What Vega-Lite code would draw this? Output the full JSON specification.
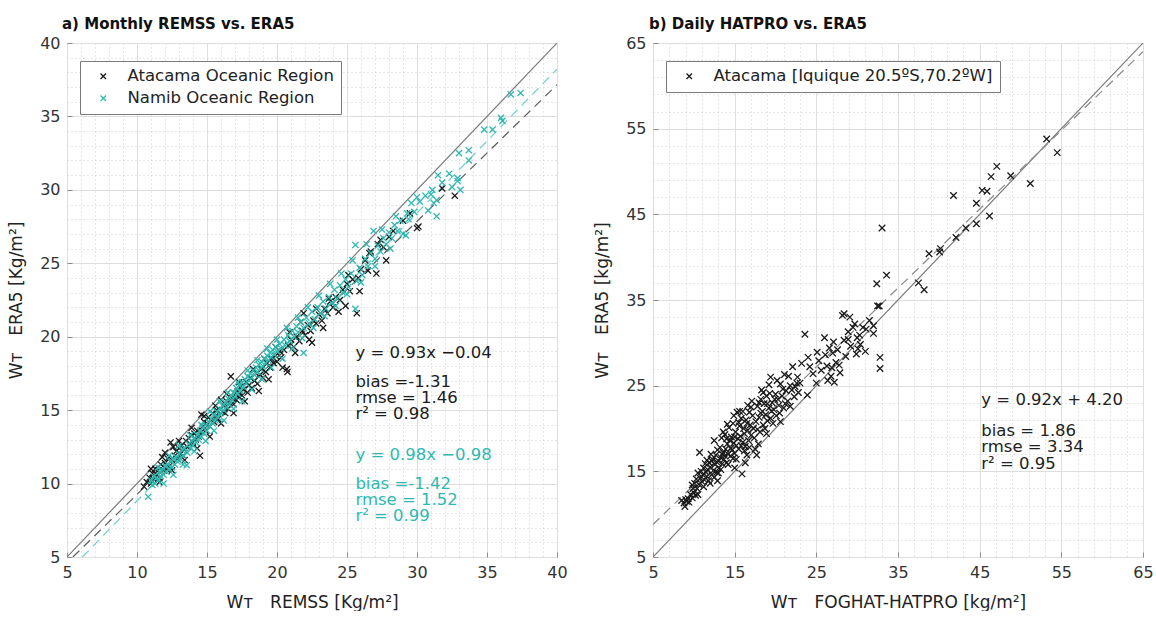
{
  "$schema": "https://vega.github.io/schema/vega-lite/v6.json",
  "background": "white",
  "padding": {"left": 7, "top": 16, "right": 4, "bottom": 0},
  "spacing": 25,
  "config": {
    "font": "DejaVu Sans",
    "view": {"stroke": "#8c8c8c", "strokeWidth": 1},
    "axis": {
      "labelFontSize": 16,
      "labelColor": "#333333",
      "labelFlush": false,
      "labelOverlap": false,
      "titleFontSize": 17,
      "titleFontWeight": "normal",
      "titleColor": "#222222",
      "domain": false,
      "tickColor": "#8c8c8c",
      "tickSize": -5,
      "labelPadding": 12,
      "gridColor": "#dedede",
      "gridWidth": 1
    },
    "title": {"fontSize": 15, "fontWeight": "bold", "anchor": "start", "frame": "group", "color": "#111111", "offset": 3},
    "legend": {
      "orient": "none",
      "legendX": 13,
      "legendY": 18,
      "title": null,
      "strokeColor": "#7a7a7a",
      "fillColor": "white",
      "padding": 7,
      "rowPadding": 5,
      "labelFontSize": 16.5,
      "labelLimit": 500,
      "labelColor": "#222222",
      "labelOffset": 16,
      "symbolOffset": 8,
      "symbolType": "M-1,-1L1,1M-1,1L1,-1",
      "symbolSize": 30,
      "symbolStrokeWidth": 1.3,
      "symbolFillColor": "transparent"
    }
  },
  "datasets": {
    "monthly": [
      {"region": "Atacama", "remss": 10.5, "era5": 9.8}, {"region": "Atacama", "remss": 10.7, "era5": 10.1}, {"region": "Atacama", "remss": 10.9, "era5": 10.4}, {"region": "Atacama", "remss": 11.0, "era5": 10.0}, {"region": "Atacama", "remss": 11.1, "era5": 10.7}, {"region": "Atacama", "remss": 11.2, "era5": 10.3}, {"region": "Atacama", "remss": 11.3, "era5": 11.0}, {"region": "Atacama", "remss": 11.4, "era5": 10.6}, {"region": "Atacama", "remss": 11.5, "era5": 10.9}, {"region": "Atacama", "remss": 11.6, "era5": 10.4},
      {"region": "Atacama", "remss": 11.7, "era5": 11.3}, {"region": "Atacama", "remss": 11.8, "era5": 11.8}, {"region": "Atacama", "remss": 11.9, "era5": 10.9}, {"region": "Atacama", "remss": 12.0, "era5": 11.4}, {"region": "Atacama", "remss": 12.1, "era5": 11.0}, {"region": "Atacama", "remss": 12.2, "era5": 11.7}, {"region": "Atacama", "remss": 12.3, "era5": 11.2}, {"region": "Atacama", "remss": 12.4, "era5": 12.8}, {"region": "Atacama", "remss": 12.5, "era5": 11.6}, {"region": "Atacama", "remss": 12.6, "era5": 12.5},
      {"region": "Atacama", "remss": 12.7, "era5": 11.9}, {"region": "Atacama", "remss": 12.8, "era5": 12.2}, {"region": "Atacama", "remss": 12.9, "era5": 11.7}, {"region": "Atacama", "remss": 13.0, "era5": 12.4}, {"region": "Atacama", "remss": 13.1, "era5": 12.0}, {"region": "Atacama", "remss": 13.2, "era5": 12.6}, {"region": "Atacama", "remss": 13.3, "era5": 11.9}, {"region": "Atacama", "remss": 13.4, "era5": 12.3}, {"region": "Atacama", "remss": 13.5, "era5": 12.9}, {"region": "Atacama", "remss": 13.6, "era5": 12.5},
      {"region": "Atacama", "remss": 13.7, "era5": 13.1}, {"region": "Atacama", "remss": 13.8, "era5": 12.7}, {"region": "Atacama", "remss": 13.9, "era5": 13.3}, {"region": "Atacama", "remss": 14.0, "era5": 12.8}, {"region": "Atacama", "remss": 14.1, "era5": 13.4}, {"region": "Atacama", "remss": 14.2, "era5": 13.0}, {"region": "Atacama", "remss": 14.3, "era5": 13.6}, {"region": "Atacama", "remss": 14.4, "era5": 13.2}, {"region": "Atacama", "remss": 14.5, "era5": 11.9}, {"region": "Atacama", "remss": 14.6, "era5": 14.7},
      {"region": "Atacama", "remss": 14.6, "era5": 13.5}, {"region": "Atacama", "remss": 14.7, "era5": 13.9}, {"region": "Atacama", "remss": 14.8, "era5": 14.2}, {"region": "Atacama", "remss": 14.9, "era5": 13.6}, {"region": "Atacama", "remss": 15.0, "era5": 14.1}, {"region": "Atacama", "remss": 15.1, "era5": 14.5}, {"region": "Atacama", "remss": 15.2, "era5": 13.9}, {"region": "Atacama", "remss": 15.3, "era5": 14.3}, {"region": "Atacama", "remss": 15.4, "era5": 14.8}, {"region": "Atacama", "remss": 15.5, "era5": 14.2},
      {"region": "Atacama", "remss": 15.6, "era5": 14.6}, {"region": "Atacama", "remss": 15.7, "era5": 15.0}, {"region": "Atacama", "remss": 15.8, "era5": 14.4}, {"region": "Atacama", "remss": 16.0, "era5": 15.7}, {"region": "Atacama", "remss": 16.1, "era5": 14.9}, {"region": "Atacama", "remss": 16.2, "era5": 15.3}, {"region": "Atacama", "remss": 16.3, "era5": 14.8}, {"region": "Atacama", "remss": 16.4, "era5": 15.6}, {"region": "Atacama", "remss": 16.5, "era5": 15.1}, {"region": "Atacama", "remss": 16.6, "era5": 15.5},
      {"region": "Atacama", "remss": 16.7, "era5": 17.3}, {"region": "Atacama", "remss": 16.8, "era5": 15.8}, {"region": "Atacama", "remss": 16.9, "era5": 15.4}, {"region": "Atacama", "remss": 17.0, "era5": 16.1}, {"region": "Atacama", "remss": 17.1, "era5": 15.7}, {"region": "Atacama", "remss": 17.2, "era5": 16.3}, {"region": "Atacama", "remss": 17.3, "era5": 15.9}, {"region": "Atacama", "remss": 17.4, "era5": 16.6}, {"region": "Atacama", "remss": 17.5, "era5": 16.0}, {"region": "Atacama", "remss": 17.6, "era5": 16.4},
      {"region": "Atacama", "remss": 17.8, "era5": 16.9}, {"region": "Atacama", "remss": 17.9, "era5": 16.2}, {"region": "Atacama", "remss": 18.0, "era5": 16.7}, {"region": "Atacama", "remss": 18.1, "era5": 17.2}, {"region": "Atacama", "remss": 18.2, "era5": 16.5}, {"region": "Atacama", "remss": 18.4, "era5": 17.0}, {"region": "Atacama", "remss": 18.5, "era5": 17.5}, {"region": "Atacama", "remss": 18.6, "era5": 16.8}, {"region": "Atacama", "remss": 18.8, "era5": 17.4}, {"region": "Atacama", "remss": 18.9, "era5": 17.8},
      {"region": "Atacama", "remss": 19.0, "era5": 17.2}, {"region": "Atacama", "remss": 19.2, "era5": 17.6}, {"region": "Atacama", "remss": 19.3, "era5": 18.2}, {"region": "Atacama", "remss": 19.5, "era5": 17.9}, {"region": "Atacama", "remss": 19.6, "era5": 18.5}, {"region": "Atacama", "remss": 19.75, "era5": 18.2}, {"region": "Atacama", "remss": 19.9, "era5": 18.7}, {"region": "Atacama", "remss": 20.0, "era5": 18.3}, {"region": "Atacama", "remss": 20.2, "era5": 19.0}, {"region": "Atacama", "remss": 20.3, "era5": 18.6},
      {"region": "Atacama", "remss": 20.5, "era5": 19.1}, {"region": "Atacama", "remss": 20.7, "era5": 17.8}, {"region": "Atacama", "remss": 20.75, "era5": 17.6}, {"region": "Atacama", "remss": 20.8, "era5": 19.4}, {"region": "Atacama", "remss": 21.0, "era5": 19.8}, {"region": "Atacama", "remss": 21.2, "era5": 19.3}, {"region": "Atacama", "remss": 21.4, "era5": 20.0}, {"region": "Atacama", "remss": 21.6, "era5": 19.7}, {"region": "Atacama", "remss": 21.8, "era5": 20.4}, {"region": "Atacama", "remss": 21.9, "era5": 21.6},
      {"region": "Atacama", "remss": 22.0, "era5": 20.1}, {"region": "Atacama", "remss": 22.2, "era5": 20.8}, {"region": "Atacama", "remss": 22.4, "era5": 20.4}, {"region": "Atacama", "remss": 22.5, "era5": 19.6}, {"region": "Atacama", "remss": 22.6, "era5": 21.1}, {"region": "Atacama", "remss": 22.8, "era5": 20.9}, {"region": "Atacama", "remss": 23.0, "era5": 21.5}, {"region": "Atacama", "remss": 23.2, "era5": 21.1}, {"region": "Atacama", "remss": 23.4, "era5": 21.9}, {"region": "Atacama", "remss": 23.6, "era5": 21.6},
      {"region": "Atacama", "remss": 23.8, "era5": 22.4}, {"region": "Atacama", "remss": 24.0, "era5": 22.0}, {"region": "Atacama", "remss": 24.2, "era5": 22.7}, {"region": "Atacama", "remss": 24.5, "era5": 22.5}, {"region": "Atacama", "remss": 24.7, "era5": 23.2}, {"region": "Atacama", "remss": 24.9, "era5": 22.1}, {"region": "Atacama", "remss": 25.0, "era5": 23.6}, {"region": "Atacama", "remss": 25.2, "era5": 23.1}, {"region": "Atacama", "remss": 25.4, "era5": 23.9}, {"region": "Atacama", "remss": 25.7, "era5": 21.6},
      {"region": "Atacama", "remss": 25.8, "era5": 24.0}, {"region": "Atacama", "remss": 26.0, "era5": 24.6}, {"region": "Atacama", "remss": 26.3, "era5": 25.2}, {"region": "Atacama", "remss": 26.5, "era5": 24.5}, {"region": "Atacama", "remss": 26.7, "era5": 25.8}, {"region": "Atacama", "remss": 27.1, "era5": 24.3}, {"region": "Atacama", "remss": 27.2, "era5": 26.3}, {"region": "Atacama", "remss": 27.4, "era5": 26.6}, {"region": "Atacama", "remss": 27.6, "era5": 26.1}, {"region": "Atacama", "remss": 28.0, "era5": 26.8},
      {"region": "Atacama", "remss": 28.3, "era5": 27.2}, {"region": "Atacama", "remss": 29.0, "era5": 27.9}, {"region": "Atacama", "remss": 29.5, "era5": 28.4}, {"region": "Atacama", "remss": 30.0, "era5": 27.4}, {"region": "Atacama", "remss": 30.1, "era5": 27.5}, {"region": "Atacama", "remss": 31.8, "era5": 30.1}, {"region": "Atacama", "remss": 32.7, "era5": 29.6},
      {"region": "Atacama", "remss": 11.0, "era5": 11.0}, {"region": "Atacama", "remss": 11.6, "era5": 10.1}, {"region": "Atacama", "remss": 12.0, "era5": 12.1}, {"region": "Atacama", "remss": 12.5, "era5": 10.9}, {"region": "Atacama", "remss": 13.0, "era5": 12.9}, {"region": "Atacama", "remss": 13.4, "era5": 11.6}, {"region": "Atacama", "remss": 13.9, "era5": 13.8}, {"region": "Atacama", "remss": 14.3, "era5": 12.4}, {"region": "Atacama", "remss": 14.8, "era5": 14.6}, {"region": "Atacama", "remss": 15.2, "era5": 13.2},
      {"region": "Atacama", "remss": 15.6, "era5": 15.3}, {"region": "Atacama", "remss": 16.0, "era5": 14.1}, {"region": "Atacama", "remss": 16.4, "era5": 16.1}, {"region": "Atacama", "remss": 16.9, "era5": 14.8}, {"region": "Atacama", "remss": 17.3, "era5": 16.9}, {"region": "Atacama", "remss": 17.7, "era5": 15.6}, {"region": "Atacama", "remss": 18.3, "era5": 17.8}, {"region": "Atacama", "remss": 18.7, "era5": 16.3}, {"region": "Atacama", "remss": 19.1, "era5": 18.5}, {"region": "Atacama", "remss": 19.4, "era5": 17.1},
      {"region": "Atacama", "remss": 19.9, "era5": 19.3}, {"region": "Atacama", "remss": 20.4, "era5": 17.9}, {"region": "Atacama", "remss": 20.9, "era5": 20.3}, {"region": "Atacama", "remss": 21.3, "era5": 18.9}, {"region": "Atacama", "remss": 21.7, "era5": 21.0}, {"region": "Atacama", "remss": 22.3, "era5": 19.8}, {"region": "Atacama", "remss": 22.8, "era5": 21.9}, {"region": "Atacama", "remss": 23.3, "era5": 20.6}, {"region": "Atacama", "remss": 23.7, "era5": 22.6}, {"region": "Atacama", "remss": 24.4, "era5": 21.7},
      {"region": "Atacama", "remss": 25.1, "era5": 24.2}, {"region": "Atacama", "remss": 25.9, "era5": 23.1}, {"region": "Atacama", "remss": 26.6, "era5": 25.7}, {"region": "Atacama", "remss": 27.8, "era5": 25.2},
      {"region": "Namib", "remss": 10.8, "era5": 9.1}, {"region": "Namib", "remss": 11.0, "era5": 10.2}, {"region": "Namib", "remss": 11.1, "era5": 9.9}, {"region": "Namib", "remss": 11.2, "era5": 10.5}, {"region": "Namib", "remss": 11.3, "era5": 10.0}, {"region": "Namib", "remss": 11.4, "era5": 10.4}, {"region": "Namib", "remss": 11.5, "era5": 10.2}, {"region": "Namib", "remss": 11.6, "era5": 10.8}, {"region": "Namib", "remss": 11.7, "era5": 10.5}, {"region": "Namib", "remss": 11.8, "era5": 10.9},
      {"region": "Namib", "remss": 11.9, "era5": 10.6}, {"region": "Namib", "remss": 12.0, "era5": 11.2}, {"region": "Namib", "remss": 12.1, "era5": 10.8}, {"region": "Namib", "remss": 12.2, "era5": 11.3}, {"region": "Namib", "remss": 12.3, "era5": 11.0}, {"region": "Namib", "remss": 12.4, "era5": 11.5}, {"region": "Namib", "remss": 12.5, "era5": 11.1}, {"region": "Namib", "remss": 12.6, "era5": 11.7}, {"region": "Namib", "remss": 12.7, "era5": 11.3}, {"region": "Namib", "remss": 12.8, "era5": 11.8},
      {"region": "Namib", "remss": 12.9, "era5": 11.5}, {"region": "Namib", "remss": 13.0, "era5": 12.0}, {"region": "Namib", "remss": 13.1, "era5": 11.7}, {"region": "Namib", "remss": 13.2, "era5": 12.3}, {"region": "Namib", "remss": 13.3, "era5": 11.9}, {"region": "Namib", "remss": 13.4, "era5": 12.4}, {"region": "Namib", "remss": 13.55, "era5": 11.25}, {"region": "Namib", "remss": 13.6, "era5": 12.1}, {"region": "Namib", "remss": 13.7, "era5": 12.7}, {"region": "Namib", "remss": 13.8, "era5": 12.4},
      {"region": "Namib", "remss": 13.9, "era5": 12.9}, {"region": "Namib", "remss": 14.0, "era5": 12.6}, {"region": "Namib", "remss": 14.1, "era5": 13.1}, {"region": "Namib", "remss": 14.2, "era5": 12.8}, {"region": "Namib", "remss": 14.3, "era5": 13.3}, {"region": "Namib", "remss": 14.4, "era5": 13.0}, {"region": "Namib", "remss": 14.5, "era5": 13.6}, {"region": "Namib", "remss": 14.6, "era5": 13.2}, {"region": "Namib", "remss": 14.7, "era5": 13.8}, {"region": "Namib", "remss": 14.8, "era5": 13.4},
      {"region": "Namib", "remss": 14.9, "era5": 14.0}, {"region": "Namib", "remss": 15.0, "era5": 13.6}, {"region": "Namib", "remss": 15.1, "era5": 14.2}, {"region": "Namib", "remss": 15.2, "era5": 13.9}, {"region": "Namib", "remss": 15.3, "era5": 14.4}, {"region": "Namib", "remss": 15.4, "era5": 14.1}, {"region": "Namib", "remss": 15.5, "era5": 14.7}, {"region": "Namib", "remss": 15.6, "era5": 14.3}, {"region": "Namib", "remss": 15.7, "era5": 14.9}, {"region": "Namib", "remss": 15.8, "era5": 14.5},
      {"region": "Namib", "remss": 15.9, "era5": 15.1}, {"region": "Namib", "remss": 16.0, "era5": 14.8}, {"region": "Namib", "remss": 16.1, "era5": 15.3}, {"region": "Namib", "remss": 16.2, "era5": 15.0}, {"region": "Namib", "remss": 16.3, "era5": 15.5}, {"region": "Namib", "remss": 16.4, "era5": 15.2}, {"region": "Namib", "remss": 16.5, "era5": 15.8}, {"region": "Namib", "remss": 16.6, "era5": 15.4}, {"region": "Namib", "remss": 16.7, "era5": 16.0}, {"region": "Namib", "remss": 16.8, "era5": 15.7},
      {"region": "Namib", "remss": 16.9, "era5": 16.2}, {"region": "Namib", "remss": 17.0, "era5": 15.9}, {"region": "Namib", "remss": 17.1, "era5": 16.5}, {"region": "Namib", "remss": 17.2, "era5": 16.1}, {"region": "Namib", "remss": 17.3, "era5": 16.7}, {"region": "Namib", "remss": 17.4, "era5": 16.3}, {"region": "Namib", "remss": 17.5, "era5": 16.9}, {"region": "Namib", "remss": 17.6, "era5": 16.6}, {"region": "Namib", "remss": 17.7, "era5": 17.1}, {"region": "Namib", "remss": 17.8, "era5": 16.8},
      {"region": "Namib", "remss": 17.9, "era5": 17.3}, {"region": "Namib", "remss": 18.0, "era5": 17.0}, {"region": "Namib", "remss": 18.1, "era5": 17.5}, {"region": "Namib", "remss": 18.2, "era5": 17.2}, {"region": "Namib", "remss": 18.3, "era5": 17.7}, {"region": "Namib", "remss": 18.4, "era5": 17.4}, {"region": "Namib", "remss": 18.5, "era5": 17.9}, {"region": "Namib", "remss": 18.6, "era5": 17.6}, {"region": "Namib", "remss": 18.7, "era5": 18.1}, {"region": "Namib", "remss": 18.8, "era5": 17.8},
      {"region": "Namib", "remss": 18.9, "era5": 18.3}, {"region": "Namib", "remss": 19.0, "era5": 18.0}, {"region": "Namib", "remss": 19.1, "era5": 18.5}, {"region": "Namib", "remss": 19.2, "era5": 18.2}, {"region": "Namib", "remss": 19.3, "era5": 18.7}, {"region": "Namib", "remss": 19.4, "era5": 18.4}, {"region": "Namib", "remss": 19.5, "era5": 18.9}, {"region": "Namib", "remss": 19.6, "era5": 18.6}, {"region": "Namib", "remss": 19.7, "era5": 19.1}, {"region": "Namib", "remss": 19.8, "era5": 18.8},
      {"region": "Namib", "remss": 19.9, "era5": 19.3}, {"region": "Namib", "remss": 20.0, "era5": 19.0}, {"region": "Namib", "remss": 20.2, "era5": 19.5}, {"region": "Namib", "remss": 20.3, "era5": 19.2}, {"region": "Namib", "remss": 20.5, "era5": 19.8}, {"region": "Namib", "remss": 20.6, "era5": 19.4}, {"region": "Namib", "remss": 20.8, "era5": 20.1}, {"region": "Namib", "remss": 20.9, "era5": 19.7}, {"region": "Namib", "remss": 21.1, "era5": 20.4}, {"region": "Namib", "remss": 21.2, "era5": 20.0},
      {"region": "Namib", "remss": 21.4, "era5": 20.7}, {"region": "Namib", "remss": 21.5, "era5": 20.3}, {"region": "Namib", "remss": 21.7, "era5": 21.0}, {"region": "Namib", "remss": 21.9, "era5": 18.9}, {"region": "Namib", "remss": 21.9, "era5": 20.6}, {"region": "Namib", "remss": 22.1, "era5": 21.3}, {"region": "Namib", "remss": 22.3, "era5": 20.9}, {"region": "Namib", "remss": 22.5, "era5": 21.7}, {"region": "Namib", "remss": 22.7, "era5": 21.2}, {"region": "Namib", "remss": 22.9, "era5": 22.0},
      {"region": "Namib", "remss": 23.1, "era5": 21.6}, {"region": "Namib", "remss": 23.3, "era5": 22.4}, {"region": "Namib", "remss": 23.5, "era5": 21.9}, {"region": "Namib", "remss": 23.7, "era5": 22.7}, {"region": "Namib", "remss": 23.9, "era5": 22.3}, {"region": "Namib", "remss": 24.1, "era5": 23.2}, {"region": "Namib", "remss": 24.3, "era5": 22.6}, {"region": "Namib", "remss": 24.5, "era5": 23.5}, {"region": "Namib", "remss": 24.7, "era5": 23.0}, {"region": "Namib", "remss": 24.9, "era5": 23.9},
      {"region": "Namib", "remss": 25.1, "era5": 23.4}, {"region": "Namib", "remss": 25.3, "era5": 24.3}, {"region": "Namib", "remss": 25.6, "era5": 21.9}, {"region": "Namib", "remss": 25.6, "era5": 26.25}, {"region": "Namib", "remss": 25.7, "era5": 23.8}, {"region": "Namib", "remss": 25.9, "era5": 24.7}, {"region": "Namib", "remss": 26.1, "era5": 24.2}, {"region": "Namib", "remss": 26.3, "era5": 25.3}, {"region": "Namib", "remss": 26.5, "era5": 24.8}, {"region": "Namib", "remss": 26.7, "era5": 25.7},
      {"region": "Namib", "remss": 26.9, "era5": 27.2}, {"region": "Namib", "remss": 27.0, "era5": 25.3}, {"region": "Namib", "remss": 27.2, "era5": 26.2}, {"region": "Namib", "remss": 27.4, "era5": 25.8}, {"region": "Namib", "remss": 27.6, "era5": 26.7}, {"region": "Namib", "remss": 27.8, "era5": 26.3}, {"region": "Namib", "remss": 28.0, "era5": 27.1}, {"region": "Namib", "remss": 28.2, "era5": 26.7}, {"region": "Namib", "remss": 28.4, "era5": 27.6}, {"region": "Namib", "remss": 28.6, "era5": 27.2},
      {"region": "Namib", "remss": 28.8, "era5": 27.9}, {"region": "Namib", "remss": 29.0, "era5": 27.0}, {"region": "Namib", "remss": 29.3, "era5": 28.4}, {"region": "Namib", "remss": 29.4, "era5": 28.0}, {"region": "Namib", "remss": 29.6, "era5": 29.1}, {"region": "Namib", "remss": 29.8, "era5": 28.5}, {"region": "Namib", "remss": 30.2, "era5": 29.2}, {"region": "Namib", "remss": 30.6, "era5": 29.6}, {"region": "Namib", "remss": 31.0, "era5": 29.7}, {"region": "Namib", "remss": 31.1, "era5": 30.0},
      {"region": "Namib", "remss": 31.2, "era5": 29.1}, {"region": "Namib", "remss": 31.4, "era5": 29.3}, {"region": "Namib", "remss": 31.4, "era5": 28.2}, {"region": "Namib", "remss": 31.8, "era5": 30.5}, {"region": "Namib", "remss": 32.3, "era5": 31.1}, {"region": "Namib", "remss": 32.9, "era5": 30.8}, {"region": "Namib", "remss": 32.9, "era5": 30.6}, {"region": "Namib", "remss": 33.0, "era5": 32.5}, {"region": "Namib", "remss": 33.1, "era5": 30.0}, {"region": "Namib", "remss": 33.7, "era5": 32.7},
      {"region": "Namib", "remss": 33.7, "era5": 32.0}, {"region": "Namib", "remss": 34.8, "era5": 34.1}, {"region": "Namib", "remss": 35.4, "era5": 34.1}, {"region": "Namib", "remss": 36.0, "era5": 34.9}, {"region": "Namib", "remss": 36.1, "era5": 34.7}, {"region": "Namib", "remss": 36.7, "era5": 36.5}, {"region": "Namib", "remss": 37.4, "era5": 36.6},
      {"region": "Namib", "remss": 11.5, "era5": 11.1}, {"region": "Namib", "remss": 11.9, "era5": 10.0}, {"region": "Namib", "remss": 12.3, "era5": 11.9}, {"region": "Namib", "remss": 12.6, "era5": 10.6}, {"region": "Namib", "remss": 13.0, "era5": 12.6}, {"region": "Namib", "remss": 13.3, "era5": 11.3}, {"region": "Namib", "remss": 13.8, "era5": 13.3}, {"region": "Namib", "remss": 14.1, "era5": 12.2}, {"region": "Namib", "remss": 14.6, "era5": 14.0}, {"region": "Namib", "remss": 14.9, "era5": 12.9},
      {"region": "Namib", "remss": 15.2, "era5": 14.9}, {"region": "Namib", "remss": 15.5, "era5": 13.6}, {"region": "Namib", "remss": 15.9, "era5": 15.6}, {"region": "Namib", "remss": 16.2, "era5": 14.3}, {"region": "Namib", "remss": 16.5, "era5": 16.2}, {"region": "Namib", "remss": 16.9, "era5": 15.1}, {"region": "Namib", "remss": 17.2, "era5": 16.9}, {"region": "Namib", "remss": 17.5, "era5": 15.6}, {"region": "Namib", "remss": 17.9, "era5": 17.7}, {"region": "Namib", "remss": 18.2, "era5": 16.4},
      {"region": "Namib", "remss": 18.6, "era5": 18.4}, {"region": "Namib", "remss": 18.9, "era5": 17.1}, {"region": "Namib", "remss": 19.3, "era5": 19.2}, {"region": "Namib", "remss": 19.6, "era5": 17.9}, {"region": "Namib", "remss": 20.0, "era5": 19.8}, {"region": "Namib", "remss": 20.4, "era5": 18.5}, {"region": "Namib", "remss": 20.7, "era5": 20.6}, {"region": "Namib", "remss": 21.1, "era5": 19.2}, {"region": "Namib", "remss": 21.5, "era5": 21.3}, {"region": "Namib", "remss": 21.8, "era5": 19.9},
      {"region": "Namib", "remss": 22.2, "era5": 22.0}, {"region": "Namib", "remss": 22.6, "era5": 20.6}, {"region": "Namib", "remss": 23.0, "era5": 22.8}, {"region": "Namib", "remss": 23.4, "era5": 21.4}, {"region": "Namib", "remss": 23.8, "era5": 23.6}, {"region": "Namib", "remss": 24.2, "era5": 22.1}, {"region": "Namib", "remss": 24.6, "era5": 24.3}, {"region": "Namib", "remss": 25.0, "era5": 22.9}, {"region": "Namib", "remss": 25.4, "era5": 25.2}, {"region": "Namib", "remss": 26.0, "era5": 23.7},
      {"region": "Namib", "remss": 26.4, "era5": 26.3}, {"region": "Namib", "remss": 27.0, "era5": 24.8}, {"region": "Namib", "remss": 27.5, "era5": 27.3}, {"region": "Namib", "remss": 28.1, "era5": 26.0}, {"region": "Namib", "remss": 28.5, "era5": 28.2}, {"region": "Namib", "remss": 29.2, "era5": 26.9}, {"region": "Namib", "remss": 30.0, "era5": 29.5}, {"region": "Namib", "remss": 30.8, "era5": 28.6}, {"region": "Namib", "remss": 31.5, "era5": 31.0}, {"region": "Namib", "remss": 32.5, "era5": 30.2}
    ],
    "monthlyFits": [
      {"line": "one-to-one", "remss": 5, "era5": 5}, {"line": "one-to-one", "remss": 40, "era5": 40},
      {"line": "Atacama", "remss": 5.42, "era5": 5}, {"line": "Atacama", "remss": 40, "era5": 37.16},
      {"line": "Namib", "remss": 6.1, "era5": 5}, {"line": "Namib", "remss": 40, "era5": 38.22}
    ],
    "monthlyStats": [
      {"region": "Atacama", "remss": 25.6, "era5": 18.9, "label": ["y = 0.93x −0.04"]},
      {"region": "Atacama", "remss": 25.6, "era5": 16.92, "label": ["bias =-1.31", "rmse = 1.46", "r² = 0.98"]},
      {"region": "Namib", "remss": 25.6, "era5": 11.93, "label": ["y = 0.98x −0.98"]},
      {"region": "Namib", "remss": 25.6, "era5": 9.95, "label": ["bias =-1.42", "rmse = 1.52", "r² = 0.99"]}
    ],
    "daily": [
      {"hatpro": 8.5, "era5": 11.6}, {"hatpro": 8.8, "era5": 11.3}, {"hatpro": 8.9, "era5": 10.9}, {"hatpro": 9.0, "era5": 11.7}, {"hatpro": 9.1, "era5": 11.5}, {"hatpro": 9.3, "era5": 11.8}, {"hatpro": 9.4, "era5": 11.4}, {"hatpro": 9.6, "era5": 12.3}, {"hatpro": 9.8, "era5": 11.9}, {"hatpro": 9.9, "era5": 13.0},
      {"hatpro": 10.0, "era5": 12.5}, {"hatpro": 10.1, "era5": 13.6}, {"hatpro": 10.2, "era5": 12.2}, {"hatpro": 10.3, "era5": 14.1}, {"hatpro": 10.4, "era5": 13.0}, {"hatpro": 10.5, "era5": 14.8}, {"hatpro": 10.6, "era5": 13.5}, {"hatpro": 10.7, "era5": 17.2}, {"hatpro": 10.8, "era5": 14.2}, {"hatpro": 10.9, "era5": 15.0},
      {"hatpro": 11.0, "era5": 13.8}, {"hatpro": 11.1, "era5": 14.6}, {"hatpro": 11.2, "era5": 15.4}, {"hatpro": 11.3, "era5": 14.0}, {"hatpro": 11.4, "era5": 15.9}, {"hatpro": 11.5, "era5": 14.9}, {"hatpro": 11.6, "era5": 16.3}, {"hatpro": 11.7, "era5": 15.2}, {"hatpro": 11.8, "era5": 13.9}, {"hatpro": 11.9, "era5": 16.0},
      {"hatpro": 12.0, "era5": 15.5}, {"hatpro": 12.1, "era5": 17.0}, {"hatpro": 12.2, "era5": 14.6}, {"hatpro": 12.3, "era5": 16.4}, {"hatpro": 12.4, "era5": 15.1}, {"hatpro": 12.5, "era5": 18.6}, {"hatpro": 12.6, "era5": 15.8}, {"hatpro": 12.7, "era5": 16.9}, {"hatpro": 12.8, "era5": 14.9}, {"hatpro": 12.9, "era5": 17.5},
      {"hatpro": 13.0, "era5": 16.2}, {"hatpro": 13.1, "era5": 15.4}, {"hatpro": 13.2, "era5": 17.8}, {"hatpro": 13.3, "era5": 16.6}, {"hatpro": 13.4, "era5": 18.9}, {"hatpro": 13.5, "era5": 15.9}, {"hatpro": 13.6, "era5": 17.2}, {"hatpro": 13.7, "era5": 16.4}, {"hatpro": 13.8, "era5": 19.3}, {"hatpro": 13.9, "era5": 17.6},
      {"hatpro": 14.0, "era5": 16.0}, {"hatpro": 14.1, "era5": 18.2}, {"hatpro": 14.2, "era5": 17.0}, {"hatpro": 14.3, "era5": 20.1}, {"hatpro": 14.4, "era5": 18.6}, {"hatpro": 14.5, "era5": 16.8}, {"hatpro": 14.6, "era5": 19.0}, {"hatpro": 14.7, "era5": 17.5}, {"hatpro": 14.8, "era5": 20.6}, {"hatpro": 14.9, "era5": 18.3},
      {"hatpro": 15.0, "era5": 17.1}, {"hatpro": 15.1, "era5": 19.6}, {"hatpro": 15.2, "era5": 18.0}, {"hatpro": 15.3, "era5": 21.9}, {"hatpro": 15.4, "era5": 18.8}, {"hatpro": 15.5, "era5": 17.6}, {"hatpro": 15.6, "era5": 20.3}, {"hatpro": 15.7, "era5": 19.1}, {"hatpro": 15.8, "era5": 21.2}, {"hatpro": 15.9, "era5": 14.7},
      {"hatpro": 16.0, "era5": 18.4}, {"hatpro": 16.1, "era5": 20.0}, {"hatpro": 16.2, "era5": 19.4}, {"hatpro": 16.3, "era5": 17.9}, {"hatpro": 16.4, "era5": 21.0}, {"hatpro": 16.5, "era5": 16.9}, {"hatpro": 16.6, "era5": 19.8}, {"hatpro": 16.7, "era5": 18.6}, {"hatpro": 16.8, "era5": 21.9}, {"hatpro": 16.9, "era5": 20.4},
      {"hatpro": 17.0, "era5": 19.2}, {"hatpro": 17.2, "era5": 21.5}, {"hatpro": 17.4, "era5": 18.9}, {"hatpro": 17.6, "era5": 20.8}, {"hatpro": 17.7, "era5": 16.9}, {"hatpro": 17.8, "era5": 22.6}, {"hatpro": 18.0, "era5": 21.3}, {"hatpro": 18.1, "era5": 19.6}, {"hatpro": 18.2, "era5": 23.4}, {"hatpro": 18.3, "era5": 24.5},
      {"hatpro": 18.4, "era5": 22.0}, {"hatpro": 18.5, "era5": 20.4}, {"hatpro": 18.6, "era5": 22.9}, {"hatpro": 18.8, "era5": 21.6}, {"hatpro": 18.9, "era5": 23.8}, {"hatpro": 19.0, "era5": 20.9}, {"hatpro": 19.2, "era5": 22.4}, {"hatpro": 19.3, "era5": 24.1}, {"hatpro": 19.4, "era5": 21.2}, {"hatpro": 19.6, "era5": 23.0},
      {"hatpro": 19.7, "era5": 20.6}, {"hatpro": 19.8, "era5": 22.2}, {"hatpro": 20.0, "era5": 24.0}, {"hatpro": 20.1, "era5": 21.5}, {"hatpro": 20.3, "era5": 23.4}, {"hatpro": 20.4, "era5": 22.7}, {"hatpro": 20.6, "era5": 25.2}, {"hatpro": 20.8, "era5": 23.8}, {"hatpro": 21.0, "era5": 22.4}, {"hatpro": 21.1, "era5": 26.3},
      {"hatpro": 21.3, "era5": 24.4}, {"hatpro": 21.5, "era5": 23.2}, {"hatpro": 21.8, "era5": 25.0}, {"hatpro": 22.0, "era5": 24.5}, {"hatpro": 22.1, "era5": 27.2}, {"hatpro": 22.4, "era5": 24.9}, {"hatpro": 22.7, "era5": 26.0}, {"hatpro": 23.0, "era5": 25.3}, {"hatpro": 23.6, "era5": 31.0}, {"hatpro": 23.9, "era5": 23.9},
      {"hatpro": 24.0, "era5": 28.3}, {"hatpro": 24.2, "era5": 27.2}, {"hatpro": 24.6, "era5": 26.4}, {"hatpro": 25.0, "era5": 25.3}, {"hatpro": 25.3, "era5": 27.9}, {"hatpro": 25.6, "era5": 26.8}, {"hatpro": 26.0, "era5": 30.6}, {"hatpro": 26.1, "era5": 28.6}, {"hatpro": 26.3, "era5": 27.3}, {"hatpro": 26.6, "era5": 29.4},
      {"hatpro": 26.8, "era5": 26.1}, {"hatpro": 27.0, "era5": 28.8}, {"hatpro": 27.1, "era5": 30.1}, {"hatpro": 27.2, "era5": 25.4}, {"hatpro": 27.4, "era5": 27.7}, {"hatpro": 27.6, "era5": 29.2}, {"hatpro": 27.9, "era5": 26.5}, {"hatpro": 28.2, "era5": 33.2}, {"hatpro": 28.4, "era5": 33.4}, {"hatpro": 28.4, "era5": 30.3},
      {"hatpro": 28.6, "era5": 28.4}, {"hatpro": 28.9, "era5": 31.3}, {"hatpro": 29.2, "era5": 29.6}, {"hatpro": 29.5, "era5": 31.8}, {"hatpro": 29.7, "era5": 32.2}, {"hatpro": 29.9, "era5": 28.7}, {"hatpro": 30.0, "era5": 30.6}, {"hatpro": 30.3, "era5": 30.9}, {"hatpro": 30.7, "era5": 31.8}, {"hatpro": 31.0, "era5": 29.0},
      {"hatpro": 31.5, "era5": 32.6}, {"hatpro": 32.0, "era5": 31.1}, {"hatpro": 32.0, "era5": 32.0}, {"hatpro": 32.4, "era5": 36.9}, {"hatpro": 32.5, "era5": 34.3}, {"hatpro": 32.7, "era5": 34.3}, {"hatpro": 32.8, "era5": 28.3}, {"hatpro": 32.8, "era5": 27.0}, {"hatpro": 33.05, "era5": 43.4}, {"hatpro": 33.6, "era5": 37.9},
      {"hatpro": 37.5, "era5": 37.0}, {"hatpro": 38.2, "era5": 36.2}, {"hatpro": 38.8, "era5": 40.4}, {"hatpro": 40.1, "era5": 40.6}, {"hatpro": 40.2, "era5": 41.0}, {"hatpro": 41.8, "era5": 47.2}, {"hatpro": 42.1, "era5": 42.3}, {"hatpro": 43.3, "era5": 43.4}, {"hatpro": 44.6, "era5": 43.9}, {"hatpro": 44.6, "era5": 46.3},
      {"hatpro": 45.3, "era5": 47.8}, {"hatpro": 45.9, "era5": 47.7}, {"hatpro": 46.2, "era5": 44.8}, {"hatpro": 46.4, "era5": 49.4}, {"hatpro": 47.1, "era5": 50.6}, {"hatpro": 48.8, "era5": 49.5}, {"hatpro": 51.2, "era5": 48.6}, {"hatpro": 53.2, "era5": 53.8}, {"hatpro": 54.5, "era5": 52.2},
      {"hatpro": 11.2, "era5": 13.2}, {"hatpro": 11.6, "era5": 14.4}, {"hatpro": 12.0, "era5": 13.6}, {"hatpro": 12.2, "era5": 16.2}, {"hatpro": 12.5, "era5": 14.3}, {"hatpro": 12.8, "era5": 16.1}, {"hatpro": 13.0, "era5": 14.8}, {"hatpro": 13.3, "era5": 15.2}, {"hatpro": 13.5, "era5": 17.0}, {"hatpro": 13.8, "era5": 16.8},
      {"hatpro": 14.0, "era5": 18.8}, {"hatpro": 14.2, "era5": 15.8}, {"hatpro": 14.5, "era5": 17.7}, {"hatpro": 14.8, "era5": 16.5}, {"hatpro": 15.0, "era5": 19.0}, {"hatpro": 15.2, "era5": 16.4}, {"hatpro": 15.5, "era5": 20.7}, {"hatpro": 15.8, "era5": 18.0}, {"hatpro": 16.0, "era5": 22.0}, {"hatpro": 16.2, "era5": 17.4},
      {"hatpro": 16.5, "era5": 20.6}, {"hatpro": 16.8, "era5": 17.8}, {"hatpro": 17.0, "era5": 22.5}, {"hatpro": 17.3, "era5": 20.0}, {"hatpro": 17.5, "era5": 17.6}, {"hatpro": 17.8, "era5": 19.9}, {"hatpro": 18.0, "era5": 23.0}, {"hatpro": 18.2, "era5": 21.8}, {"hatpro": 18.5, "era5": 24.2}, {"hatpro": 18.7, "era5": 20.0},
      {"hatpro": 19.0, "era5": 22.9}, {"hatpro": 19.2, "era5": 25.1}, {"hatpro": 19.5, "era5": 22.0}, {"hatpro": 19.9, "era5": 23.4}, {"hatpro": 20.2, "era5": 25.6}, {"hatpro": 20.5, "era5": 21.8}, {"hatpro": 20.9, "era5": 24.6}, {"hatpro": 21.2, "era5": 22.9}, {"hatpro": 21.6, "era5": 26.1}, {"hatpro": 22.3, "era5": 23.7},
      {"hatpro": 22.6, "era5": 25.3}, {"hatpro": 23.2, "era5": 27.6}, {"hatpro": 17.1, "era5": 23.2}, {"hatpro": 16.6, "era5": 22.7}, {"hatpro": 15.6, "era5": 22.0}, {"hatpro": 14.9, "era5": 21.5}, {"hatpro": 14.1, "era5": 20.5}, {"hatpro": 13.6, "era5": 19.6}, {"hatpro": 19.4, "era5": 26.0}, {"hatpro": 18.9, "era5": 19.4},
      {"hatpro": 20.6, "era5": 20.8}, {"hatpro": 21.8, "era5": 22.6}, {"hatpro": 10.5, "era5": 12.3}, {"hatpro": 9.8, "era5": 13.4}, {"hatpro": 12.9, "era5": 13.9}, {"hatpro": 16.3, "era5": 16.0}, {"hatpro": 15.0, "era5": 15.4}, {"hatpro": 17.9, "era5": 18.2}, {"hatpro": 22.8, "era5": 24.2}, {"hatpro": 25.1, "era5": 28.9},
      {"hatpro": 26.4, "era5": 25.6}, {"hatpro": 27.8, "era5": 27.4}, {"hatpro": 28.9, "era5": 30.4}, {"hatpro": 30.4, "era5": 29.8}, {"hatpro": 29.1, "era5": 33.0}, {"hatpro": 26.9, "era5": 27.1}, {"hatpro": 31.1, "era5": 31.6}, {"hatpro": 30.1, "era5": 29.3}
    ],
    "dailyFits": [
      {"line": "one-to-one", "hatpro": 5, "era5": 5}, {"line": "one-to-one", "hatpro": 65, "era5": 65},
      {"line": "fit", "hatpro": 5, "era5": 8.8}, {"line": "fit", "hatpro": 65, "era5": 64.0}
    ],
    "dailyStats": [
      {"hatpro": 45.2, "era5": 23.3, "label": ["y = 0.92x + 4.20"]},
      {"hatpro": 45.2, "era5": 19.75, "label": ["bias = 1.86", "rmse = 3.34", "r² = 0.95"]}
    ]
  },
  "resolve": {"scale": {"color": "independent"}},
  "hconcat": [
    {
      "width": 490,
      "height": 514,
      "title": {"text": "a) Monthly REMSS vs. ERA5", "dx": -5},
      "resolve": {"axis": {"x": "independent", "y": "independent"}},
      "layer": [
        {
          "data": {"name": "monthlyFits"},
          "transform": [{"filter": "datum.line === 'one-to-one'"}],
          "mark": {"type": "line", "color": "#7a7a7a", "strokeWidth": 1.2, "clip": true},
          "encoding": {
            "x": {"field": "remss", "type": "quantitative", "scale": {"domain": [5, 40], "nice": false, "zero": false},
              "axis": {"orient": "bottom", "values": [6,7,8,9,11,12,13,14,16,17,18,19,21,22,23,24,26,27,28,29,31,32,33,34,36,37,38,39], "grid": true, "gridDash": [1, 3], "gridColor": "#cfcfcf", "labels": false, "ticks": false, "title": null}},
            "y": {"field": "era5", "type": "quantitative", "scale": {"domain": [5, 40], "nice": false, "zero": false},
              "axis": {"orient": "left", "values": [6,7,8,9,11,12,13,14,16,17,18,19,21,22,23,24,26,27,28,29,31,32,33,34,36,37,38,39], "grid": true, "gridDash": [1, 3], "gridColor": "#cfcfcf", "labels": false, "ticks": false, "title": null}}
          }
        },
        {
          "data": {"name": "monthlyFits"},
          "transform": [{"filter": "datum.line === 'Atacama'"}],
          "mark": {"type": "line", "color": "#5e5e5e", "strokeWidth": 1.2, "strokeDash": [9, 6], "clip": true},
          "encoding": {
            "x": {"field": "remss", "type": "quantitative", "axis": null},
            "y": {"field": "era5", "type": "quantitative", "axis": null}
          }
        },
        {
          "data": {"name": "monthlyFits"},
          "transform": [{"filter": "datum.line === 'Namib'"}],
          "mark": {"type": "line", "color": "#6fd0ca", "strokeWidth": 1.2, "strokeDash": [9, 6], "clip": true},
          "encoding": {
            "x": {"field": "remss", "type": "quantitative", "axis": null},
            "y": {"field": "era5", "type": "quantitative", "axis": null}
          }
        },
        {
          "data": {"name": "monthly"},
          "mark": {"type": "point", "shape": "M-1,-1L1,1M-1,1L1,-1", "filled": false, "size": 38, "strokeWidth": 1.3, "opacity": 1},
          "encoding": {
            "x": {"field": "remss", "type": "quantitative",
              "axis": {"orient": "bottom", "values": [5, 10, 15, 20, 25, 30, 35, 40], "grid": true, "title": "Wᴛ\u2002\u2002REMSS [Kg/m²]", "titlePadding": 14}},
            "y": {"field": "era5", "type": "quantitative",
              "axis": {"orient": "left", "values": [5, 10, 15, 20, 25, 30, 35, 40], "grid": true, "title": "Wᴛ\u2002\u2002ERA5 [Kg/m²]", "titlePadding": 14}},
            "color": {"field": "region", "type": "nominal",
              "scale": {"domain": ["Atacama", "Namib"], "range": ["#1a1a1a", "#2fb9b2"]},
              "legend": {"labelExpr": "datum.label + ' Oceanic Region'"}}
          }
        },
        {
          "data": {"name": "monthlyStats"},
          "mark": {"type": "text", "align": "left", "baseline": "middle", "fontSize": 16.5, "lineHeight": 16},
          "encoding": {
            "x": {"field": "remss", "type": "quantitative", "axis": null},
            "y": {"field": "era5", "type": "quantitative", "axis": null},
            "text": {"field": "label"},
            "color": {"field": "region", "type": "nominal", "legend": null}
          }
        }
      ]
    },
    {
      "width": 490,
      "height": 514,
      "title": {"text": "b) Daily HATPRO vs. ERA5", "dx": -4},
      "resolve": {"axis": {"x": "independent", "y": "independent"}},
      "layer": [
        {
          "data": {"name": "dailyFits"},
          "transform": [{"filter": "datum.line === 'one-to-one'"}],
          "mark": {"type": "line", "color": "#7a7a7a", "strokeWidth": 1.2, "clip": true},
          "encoding": {
            "x": {"field": "hatpro", "type": "quantitative", "scale": {"domain": [5, 65], "nice": false, "zero": false},
              "axis": {"orient": "bottom", "values": [7,9,11,13,17,19,21,23,27,29,31,33,37,39,41,43,47,49,51,53,57,59,61,63], "grid": true, "gridDash": [1, 3], "gridColor": "#cfcfcf", "labels": false, "ticks": false, "title": null}},
            "y": {"field": "era5", "type": "quantitative", "scale": {"domain": [5, 65], "nice": false, "zero": false},
              "axis": {"orient": "left", "values": [7,9,11,13,17,19,21,23,27,29,31,33,37,39,41,43,47,49,51,53,57,59,61,63], "grid": true, "gridDash": [1, 3], "gridColor": "#cfcfcf", "labels": false, "ticks": false, "title": null}}
          }
        },
        {
          "data": {"name": "dailyFits"},
          "transform": [{"filter": "datum.line === 'fit'"}],
          "mark": {"type": "line", "color": "#8a8a8a", "strokeWidth": 1.2, "strokeDash": [9, 6], "clip": true},
          "encoding": {
            "x": {"field": "hatpro", "type": "quantitative", "axis": null},
            "y": {"field": "era5", "type": "quantitative", "axis": null}
          }
        },
        {
          "data": {"name": "daily"},
          "mark": {"type": "point", "shape": "M-1,-1L1,1M-1,1L1,-1", "filled": false, "size": 42, "strokeWidth": 1.3, "opacity": 1},
          "encoding": {
            "x": {"field": "hatpro", "type": "quantitative",
              "axis": {"orient": "bottom", "values": [5, 15, 25, 35, 45, 55, 65], "grid": true, "title": "Wᴛ\u2002\u2002FOGHAT-HATPRO [kg/m²]", "titlePadding": 14}},
            "y": {"field": "era5", "type": "quantitative",
              "axis": {"orient": "left", "values": [5, 15, 25, 35, 45, 55, 65], "grid": true, "title": "Wᴛ\u2002\u2002ERA5 [kg/m²]", "titlePadding": 14}},
            "color": {"datum": "Atacama [Iquique 20.5ºS,70.2ºW]", "type": "nominal",
              "scale": {"range": ["#1a1a1a"]}}
          }
        },
        {
          "data": {"name": "dailyStats"},
          "mark": {"type": "text", "align": "left", "baseline": "middle", "fontSize": 16.5, "lineHeight": 16.5, "color": "#222222"},
          "encoding": {
            "x": {"field": "hatpro", "type": "quantitative", "axis": null},
            "y": {"field": "era5", "type": "quantitative", "axis": null},
            "text": {"field": "label"}
          }
        }
      ]
    }
  ]
}
